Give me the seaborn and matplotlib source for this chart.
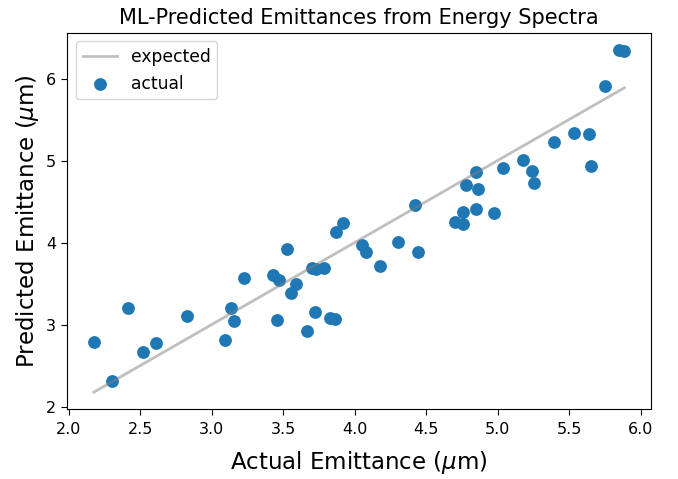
import matplotlib
matplotlib.use("Agg")
import matplotlib.pyplot as plt
import seaborn as sns
import pandas as pd

actual = [2.176, 2.305, 2.415, 2.523, 2.612, 2.829, 3.092, 3.138, 3.157, 3.223,
          3.431, 3.473, 3.455, 3.530, 3.588, 3.555, 3.665, 3.700, 3.730, 3.787,
          3.726, 3.829, 3.862, 3.869, 3.916, 4.050, 4.080, 4.180, 4.307, 4.426,
          4.445, 4.704, 4.756, 4.761, 4.852, 4.978, 4.777, 4.864, 4.850, 5.041,
          5.180, 5.238, 5.257, 5.393, 5.533, 5.641, 5.657, 5.749, 5.847, 5.887]
predicted = [2.79, 2.31, 3.20, 2.67, 2.77, 3.10, 2.81, 3.20, 3.04, 3.57,
             3.60, 3.54, 3.06, 3.92, 3.50, 3.39, 2.92, 3.69, 3.68, 3.69,
             3.15, 3.085, 3.07, 4.13, 4.24, 3.97, 3.88, 3.71, 4.01, 4.46,
             3.88, 4.255, 4.23, 4.37, 4.41, 4.36, 4.70, 4.65, 4.86, 4.91,
             5.01, 4.87, 4.73, 5.23, 5.33, 5.32, 4.93, 5.91, 6.35, 6.34]

df = pd.DataFrame({"actual": actual, "predicted": predicted})

fig = plt.figure(figsize=(6.78, 4.79), dpi=100)
ax = fig.add_axes([0.0993, 0.1455, 0.8607, 0.7862])

sns.lineplot(data=df, x="actual", y="actual", ax=ax, color="grey", alpha=0.5,
             linewidth=2, estimator=None, label="expected")
sns.scatterplot(data=df, x="actual", y="predicted", ax=ax, color="#1f77b4",
                s=85, linewidth=0, label="actual")

ax.set_title("ML-Predicted Emittances from Energy Spectra", fontsize=15)
ax.set_xlabel(r"Actual Emittance ($\mu$m)", fontsize=16.5, labelpad=8)
ax.set_ylabel(r"Predicted Emittance ($\mu$m)", fontsize=16.5)
ax.tick_params(labelsize=11.5, length=4.5)
ax.tick_params(axis="x", pad=5)
ax.set_xticks([2.0, 2.5, 3.0, 3.5, 4.0, 4.5, 5.0, 5.5, 6.0])
ax.set_yticks([2, 3, 4, 5, 6])
ax.legend(loc="upper left", fontsize=12.3)

fig.savefig("out.png", dpi=100)
